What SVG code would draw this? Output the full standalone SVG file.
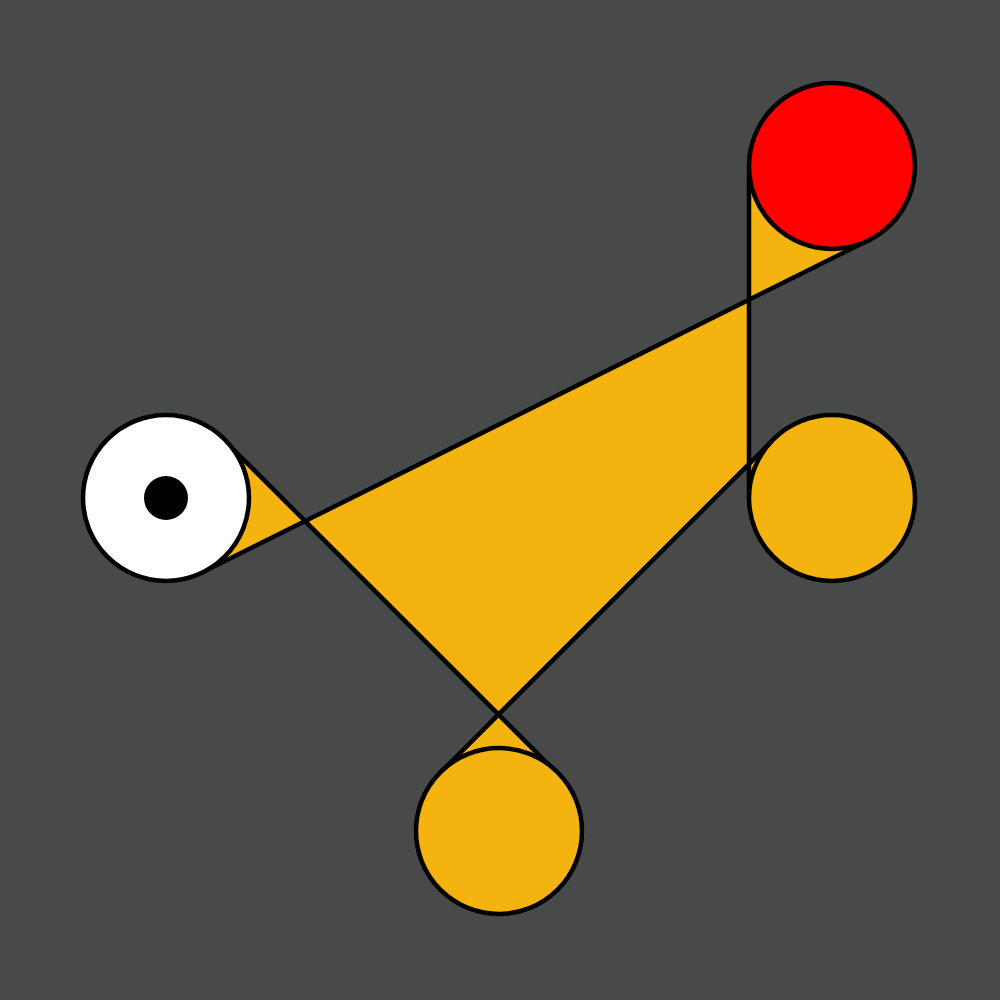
<svg xmlns="http://www.w3.org/2000/svg" width="1000" height="1000" viewBox="0 0 1000 1000">
<style>
.s{stroke:#000;stroke-width:4.5;stroke-linejoin:round}
.o{fill:#f4b30f}
</style>
<rect width="1000" height="1000" fill="#484a49"/>
<g id="connectors">
<path class="s o" d="M224,440 L557,773 L441,772 L773,440 L749,498 L749,166 L869,240 L203,572 Z"/>
</g>
<g id="node-white">
<circle class="s" cx="166" cy="498" r="83" fill="#fff"/>
<circle cx="166" cy="498" r="22" fill="#000"/>
</g>
<g id="node-red"><circle class="s" cx="832" cy="166" r="83" fill="#f00"/></g>
<g id="node-right"><circle class="s o" cx="832" cy="498" r="83"/></g>
<g id="node-bottom"><circle class="s o" cx="499" cy="831" r="83"/></g>
</svg>
